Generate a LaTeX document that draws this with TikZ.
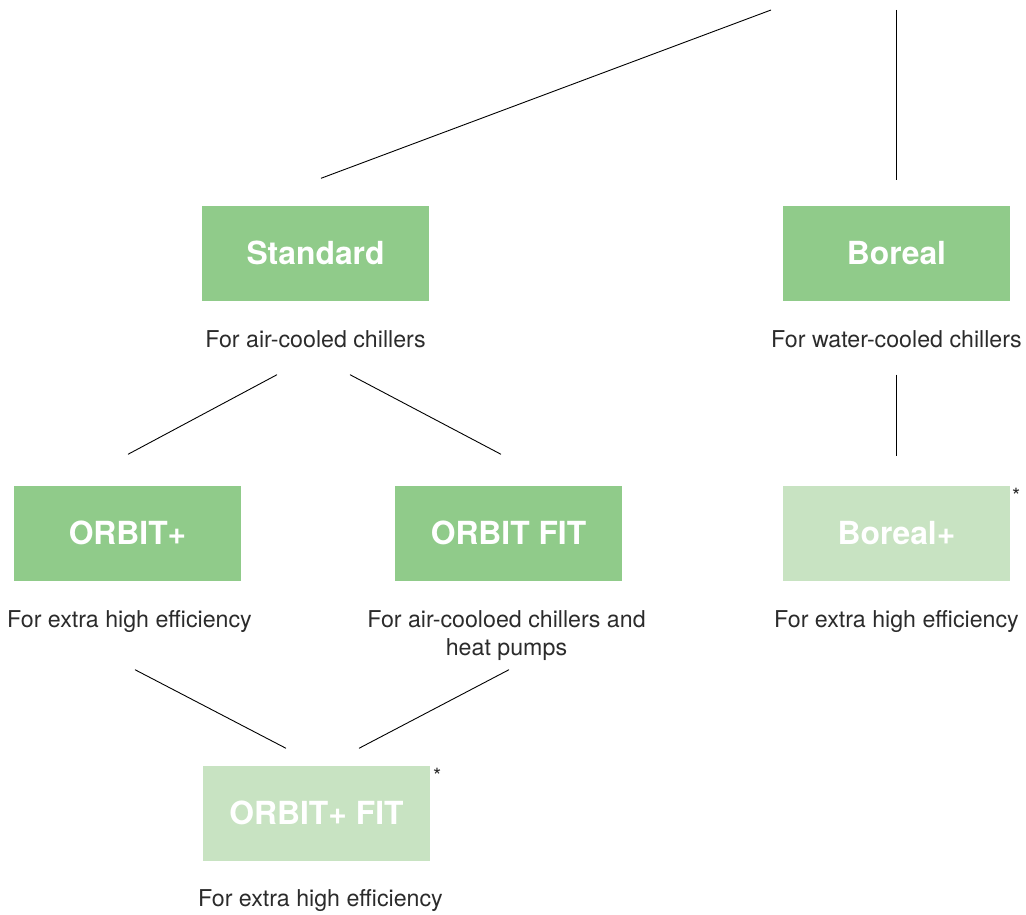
\documentclass[tikz,border=0pt]{standalone}
\usepackage{fontspec}
\setmainfont{TeX Gyre Heros}
\usetikzlibrary{calc}

\definecolor{boxgreen}{HTML}{90CB8A}
\definecolor{boxlight}{HTML}{C8E3C2}
\definecolor{labelgray}{HTML}{2B2B2B}

\begin{document}
\begin{tikzpicture}[x=1pt, y=-1pt]
    % Define styles
    \tikzstyle{block} = [rectangle, fill=boxgreen, minimum width=227pt, minimum height=95pt, inner sep=0pt, text=white, font=\bfseries\fontsize{31.8}{36}\selectfont]
    \tikzstyle{newblock} = [block, fill=boxlight]
    \tikzstyle{caption} = [text=labelgray, align=center, inner sep=0pt, anchor=base, font=\fontsize{23.2}{28.5}\selectfont]
    \tikzstyle{note} = [text=labelgray, inner sep=0pt, font=\fontsize{21}{24}\selectfont]
    \tikzstyle{line} = [draw, line width=0.9pt]

    \useasboundingbox (0,0) rectangle (1026,915);

    % Top free ends
    \coordinate (topleft) at (771,10);
    \coordinate (topright) at (896,10);

    % First row
    \node[block] (std) at (315.5,253) {Standard};
    \node[caption] (stdcap) at (315.5,347) {For air-cooled chillers};

    \node[block] (bor) at (896.5,253) {Boreal};
    \node[caption] (borcap) at (896.5,347) {For water-cooled chillers};

    % Second row
    \node[block] (orbp) at (127.5,533) {ORBIT+};
    \node[caption] (orbpcap) at (129.5,627) {For extra high efficiency};

    \node[block] (orbfit) at (508.5,533) {ORBIT FIT};
    \node[caption, anchor=north] (orbfitcap) at (506.5,610) {For air-cooloed chillers and\\heat pumps};

    \node[newblock] (borp) at (896.5,533) {Boreal+};
    \node[caption] (borpcap) at (896.5,627) {For extra high efficiency};
    \node[note] (borpnote) at ($(borp.north east)+(6,11)$) {*};

    % Third row
    \node[newblock] (orbpfit) at (316.5,813) {ORBIT+ FIT};
    \node[caption] (orbpfitcap) at (320.5,906) {For extra high efficiency};
    \node[note] (orbpfitnote) at ($(orbpfit.north east)+(7,11)$) {*};

    % Connections
    \draw[line] (topleft) -- ($(std.north)+(5.5,-27)$);
    \draw[line] (topright) -- ($(bor.north)+(-0.5,-25)$);

    \draw[line] ($(std.south)+(-38.5,74)$) -- ($(orbp.north)+(0.5,-31)$);
    \draw[line] ($(std.south)+(34.5,74)$) -- ($(orbfit.north)+(-7.5,-31)$);
    \draw[line] ($(bor.south)+(-0.5,74)$) -- ($(borp.north)+(-0.5,-29)$);

    \draw[line] ($(orbp.south)+(7.5,89)$) -- ($(orbpfit.north)+(-30.5,-17)$);
    \draw[line] ($(orbfit.south)+(0.5,89)$) -- ($(orbpfit.north)+(42.5,-17)$);
\end{tikzpicture}
\end{document}
